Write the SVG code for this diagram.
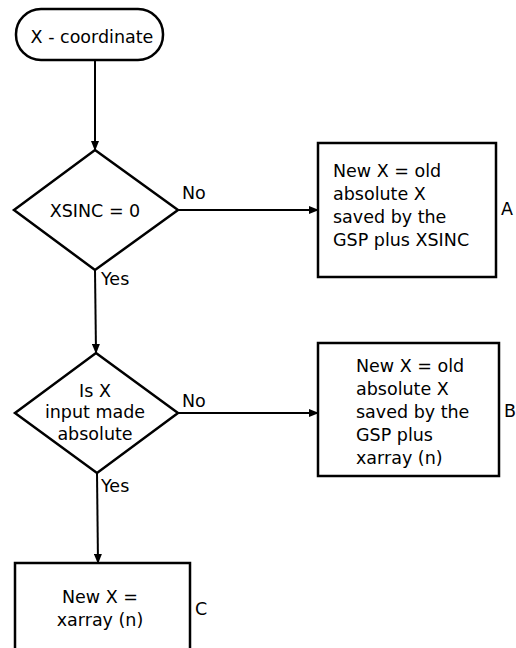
<svg xmlns="http://www.w3.org/2000/svg" width="516" height="648" viewBox="0 0 516 648">
<defs>
<style>
.s{fill:#fff;stroke:#000;stroke-width:2.5}
.c{fill:none;stroke:#000;stroke-width:2}
text{font-family:"DejaVu Sans","Liberation Sans",sans-serif;font-size:17.5px;fill:#000}
.m{text-anchor:middle}
</style>
<marker id="ah" markerWidth="10" markerHeight="8" refX="9" refY="4" orient="auto" markerUnits="userSpaceOnUse">
<path d="M0,0 L10,4 L0,8 Z" fill="#000"/>
</marker>
</defs>
<rect width="516" height="648" fill="#fff"/>
<g id="connectors">
<line class="c" x1="95" y1="60" x2="95" y2="150" marker-end="url(#ah)"/>
<line class="c" x1="178" y1="210" x2="318" y2="210" marker-end="url(#ah)"/>
<line class="c" x1="95" y1="270" x2="96" y2="353" marker-end="url(#ah)"/>
<line class="c" x1="178" y1="413" x2="318" y2="413" marker-end="url(#ah)"/>
<line class="c" x1="97" y1="473" x2="98" y2="563" marker-end="url(#ah)"/>
<text x="182" y="199">No</text>
<text x="101" y="285">Yes</text>
<text x="182" y="407">No</text>
<text x="101" y="492">Yes</text>
</g>
<g id="start">
<rect class="s" x="16" y="9" width="147" height="51" rx="25"/>
<text class="m" x="92" y="43">X - coordinate</text>
</g>
<g id="decision1">
<path class="s" d="M95,150 L178,210 L95,270 L14,210 Z"/>
<text class="m" x="95" y="217">XSINC = 0</text>
</g>
<g id="boxA">
<rect class="s" x="318" y="143" width="178" height="134"/>
<text x="333" y="177">New X = old</text>
<text x="333" y="200">absolute X</text>
<text x="333" y="223">saved by the</text>
<text x="333" y="246">GSP plus XSINC</text>
<text x="501" y="215">A</text>
</g>
<g id="decision2">
<path class="s" d="M96,353 L178,413 L97,473 L15,413 Z"/>
<text class="m" x="95" y="397">Is X</text>
<text class="m" x="95" y="418">input made</text>
<text class="m" x="95" y="440">absolute</text>
</g>
<g id="boxB">
<rect class="s" x="318" y="343" width="181" height="133"/>
<text x="356" y="372">New X = old</text>
<text x="356" y="395">absolute X</text>
<text x="356" y="418">saved by the</text>
<text x="356" y="441">GSP plus</text>
<text x="356" y="464">xarray (n)</text>
<text x="504" y="417">B</text>
</g>
<g id="boxC">
<rect class="s" x="15" y="563" width="175" height="90"/>
<text class="m" x="100" y="603">New X =</text>
<text class="m" x="100" y="626">xarray  (n)</text>
<text x="195" y="615">C</text>
</g>
</svg>
